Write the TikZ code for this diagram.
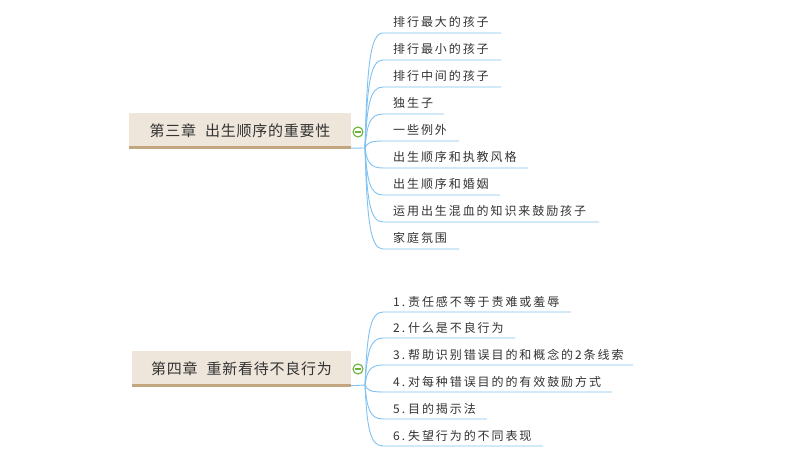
\documentclass[tikz,border=0pt]{standalone}
\usepackage{fontspec}
\newfontfamily\cjk[LetterSpace=16]{Noto Sans CJK SC}
\newfontfamily\cjkroot[LetterSpace=5]{Noto Sans CJK SC}
\definecolor{txt}{HTML}{333333}
\definecolor{conn}{HTML}{80C2F2}
\definecolor{boxfill}{HTML}{EEE6DB}
\definecolor{boxline}{HTML}{C2A67F}
\definecolor{grn}{HTML}{6AB23A}
\tikzset{
  rootbox/.style={fill=boxfill, inner sep=0pt, minimum height=36pt, text=txt, font=\cjkroot\fontsize{15pt}{18pt}\selectfont},
  childtxt/.style={inner sep=0pt, text=txt, font=\cjk\fontsize{12pt}{14pt}\selectfont, anchor=base west},
  connline/.style={draw=conn, line width=0.9pt},
  bottomline/.style={draw=boxline, line width=3pt},
  toggle/.style={circle, draw=grn, fill=white, line width=1.1pt, minimum size=10pt, inner sep=0pt},
}
\newcommand\numsep{\hspace{3pt}}
\begin{document}
\begin{tikzpicture}[x=1pt,y=-1pt]
\useasboundingbox (0,0) rectangle (800,462);
\fill[white] (0,0) rectangle (800,462);

% ---------- group 1 ----------
\node[rootbox, minimum width=222pt] (r1) at (240,131) {第三章\hspace{9pt}出生顺序的重要性};
\draw[bottomline] ([yshift=1.5pt]r1.south west) -- ([yshift=1.5pt]r1.south east);
\coordinate (o1) at (365,148);
\draw[connline] ([yshift=1pt]r1.south east) -- (o1);
\node[toggle] (t1) at (358,132) {};
\draw[grn, line width=1.1pt] ([xshift=-2.8pt]t1.center) -- ([xshift=2.8pt]t1.center);

\foreach \i/\y/\xe/\t in {
  1/33/501/排行最大的孩子,
  2/60/501/排行最小的孩子,
  3/87/501/排行中间的孩子,
  4/114/444/独生子,
  5/141/459/一些例外,
  6/168/528/出生顺序和执教风格,
  7/195/500/出生顺序和婚姻,
  8/222/599/运用出生混血的知识来鼓励孩子,
  9/249/459/家庭氛围}{
  \node[childtxt] (a\i) at (393,\y-6) {\t};
  \coordinate (as\i) at (383,\y);
  \coordinate (ae\i) at (\xe,\y);
  \pgfmathsetmacro{\cy}{\y+0.3*(148-\y)}
  \draw[connline] (o1) .. controls (367,\cy) and (370,\y) .. (as\i) -- (ae\i);
}

% ---------- group 2 ----------
\node[rootbox, minimum width=219pt] (r2) at (241.5,368.5) {第四章\hspace{9pt}重新看待不良行为};
\draw[bottomline] ([yshift=1.5pt]r2.south west) -- ([yshift=1.5pt]r2.south east);
\coordinate (o2) at (365,385);
\draw[connline] ([yshift=1pt]r2.south east) -- (o2);
\node[toggle] (t2) at (358,369) {};
\draw[grn, line width=1.1pt] ([xshift=-2.8pt]t2.center) -- ([xshift=2.8pt]t2.center);

\foreach \i/\y/\xe/\t in {
  1/312/571/1.\numsep 责任感不等于责难或羞辱,
  2/338/515/2.\numsep 什么是不良行为,
  3/365/633/3.\numsep 帮助识别错误目的和概念的2条线索,
  4/392/612/4.\numsep 对每种错误目的的有效鼓励方式,
  5/419/487/5.\numsep 目的揭示法,
  6/446/543/6.\numsep 失望行为的不同表现}{
  \node[childtxt] (b\i) at (393,\y-6) {\t};
  \coordinate (bs\i) at (383,\y);
  \coordinate (be\i) at (\xe,\y);
  \pgfmathsetmacro{\cy}{\y+0.3*(385-\y)}
  \draw[connline] (o2) .. controls (367,\cy) and (370,\y) .. (bs\i) -- (be\i);
}
\end{tikzpicture}
\end{document}
